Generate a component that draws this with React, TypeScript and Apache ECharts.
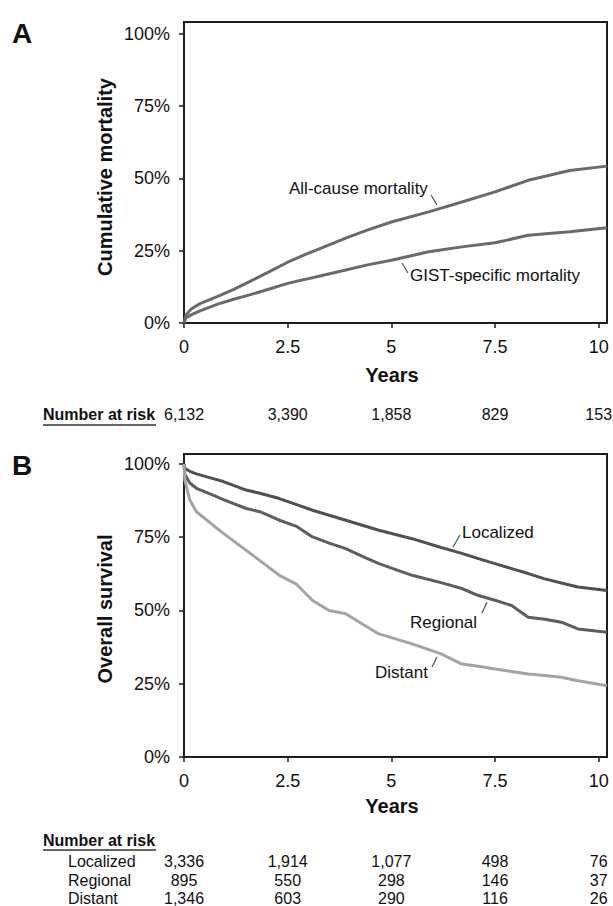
import React, { useEffect, useRef } from "react";
import * as echarts from "echarts";

// ---------- Data ----------
const tickYears = [0, 2.5, 5, 7.5, 10];
const tickPct = [0, 25, 50, 75, 100];

// Panel A: cumulative mortality (%)
const timesA = [0, 0.05, 0.17, 0.4, 0.83, 1.2, 1.58, 2.0, 2.5, 2.9, 3.38, 3.9, 4.4, 5.0, 5.9, 6.7, 7.5, 8.3, 9.3, 10.2];
const allCause = [0, 2.8, 4.8, 6.8, 9.3, 11.6, 14.3, 17.3, 21.0, 23.5, 26.3, 29.3, 32.0, 34.9, 38.4, 41.8, 45.3, 49.3, 52.7, 54.2];
const gistSpecific = [0, 1.8, 2.8, 4.3, 6.6, 8.2, 9.7, 11.5, 13.7, 15.0, 16.6, 18.3, 20.0, 21.7, 24.6, 26.3, 27.7, 30.3, 31.5, 32.9];

// Panel B: overall survival (%)
const timesB = [0, 0.02, 0.14, 0.3, 0.7, 0.95, 1.5, 1.83, 2.3, 2.7, 3.1, 3.5, 3.9, 4.3, 4.7, 5.5, 6.2, 6.7, 7.1, 7.5, 7.9, 8.3, 8.7, 9.1, 9.5, 10.2];
const localized = [100, 98.5, 97.5, 96.6, 95.0, 94.0, 91.1, 90.0, 88.2, 86.2, 84.2, 82.5, 80.8, 79.1, 77.4, 74.5, 71.5, 69.5, 67.7, 66.0, 64.3, 62.6, 60.8, 59.4, 58.0, 56.8];
const regional = [100, 96.5, 93.5, 91.7, 89.4, 87.8, 84.8, 83.7, 80.8, 78.8, 75.1, 73.0, 71.1, 68.5, 66.0, 62.0, 59.5, 57.5, 55.1, 53.5, 51.7, 47.7, 47.0, 46.0, 43.7, 42.6];
const distant = [100, 94.5, 87.7, 83.7, 79.1, 76.3, 70.5, 67.0, 62.0, 59.1, 53.4, 50.0, 48.9, 45.4, 42.0, 38.6, 35.2, 31.7, 31.0, 30.0, 29.2, 28.3, 27.8, 27.2, 26.0, 24.3];

// Numbers at risk
const riskTimes = [0, 2.5, 5, 7.5, 10];
const riskAll = ["6,132", "3,390", "1,858", "829", "153"];
const riskGroups = ["Localized", "Regional", "Distant"];
const riskLocalized = ["3,336", "1,914", "1,077", "498", "76"];
const riskRegional = ["895", "550", "298", "146", "37"];
const riskDistant = ["1,346", "603", "290", "116", "26"];

const FONT = "Liberation Sans, Arial, Helvetica, sans-serif";
const AXIS = "#1e1e1e";

function xAxisCfg(gridIndex: number) {
  return {
    type: "value",
    gridIndex,
    min: 0,
    max: 10.2,
    axisLine: { show: true, onZero: false, lineStyle: { color: AXIS, width: 2 } },
    axisTick: { show: true, inside: false, length: 5, customValues: tickYears, lineStyle: { color: AXIS, width: 1.5 } },
    axisLabel: {
      customValues: tickYears,
      margin: 15,
      fontSize: 18,
      fontFamily: FONT,
      color: "#111",
      formatter: (v: number) => String(v),
    },
    splitLine: { show: false },
  };
}

function yAxisCfg(gridIndex: number, max: number) {
  return {
    type: "value",
    gridIndex,
    min: 0,
    max,
    axisLine: { show: true, lineStyle: { color: AXIS, width: 2 } },
    axisTick: { show: true, inside: false, length: 5, customValues: tickPct, lineStyle: { color: AXIS, width: 1.5 } },
    axisLabel: {
      customValues: tickPct,
      margin: 14,
      fontSize: 18,
      fontFamily: FONT,
      color: "#111",
      formatter: (v: number) => v + "%",
    },
    splitLine: { show: false },
  };
}

function lineSeries(xi: number, times: number[], vals: number[], color: string, width: number) {
  return {
    type: "line",
    xAxisIndex: xi,
    yAxisIndex: xi,
    data: times.map((t, i) => [t, vals[i]]),
    showSymbol: false,
    symbol: "none",
    lineStyle: { color, width },
    z: 3,
  };
}

function txt(text: string, x: number, y: number, size: number, opts: any = {}) {
  return {
    type: "text",
    x,
    y,
    rotation: opts.rotation || 0,
    silent: true,
    style: {
      text,
      fill: opts.fill || "#111",
      fontSize: size,
      fontWeight: opts.bold ? "bold" : "normal",
      fontFamily: FONT,
      align: opts.align || "left",
      verticalAlign: "middle",
    },
  };
}

function seg(x1: number, y1: number, x2: number, y2: number, color = "#555", w = 1.2) {
  return {
    type: "line",
    silent: true,
    shape: { x1, y1, x2, y2 },
    style: { stroke: color, lineWidth: w },
  };
}

export default function App() {
  const ref = useRef<HTMLDivElement>(null);

  useEffect(() => {
    document.body.style.margin = "0";
    if (!ref.current) return;
    const chart = echarts.init(ref.current, null, { renderer: "svg" });

    const option: any = {
      animation: false,
      backgroundColor: "#ffffff",
      grid: [
        { left: 184, top: 22, width: 423, height: 301, show: true, borderColor: AXIS, borderWidth: 2, containLabel: false },
        { left: 184, top: 454, width: 423, height: 303, show: true, borderColor: AXIS, borderWidth: 2, containLabel: false },
      ],
      xAxis: [xAxisCfg(0), xAxisCfg(1)],
      yAxis: [yAxisCfg(0, 104), yAxisCfg(1, 103.4)],
      series: [
        lineSeries(0, timesA, allCause, "#6a6a6a", 3),
        lineSeries(0, timesA, gistSpecific, "#6a6a6a", 3),
        lineSeries(1, timesB, localized, "#505050", 3),
        lineSeries(1, timesB, regional, "#5e5e5e", 3),
        lineSeries(1, timesB, distant, "#a4a4a4", 3),
      ],
    };
    chart.setOption(option);

    const xs0 = riskTimes.map((t) => chart.convertToPixel({ xAxisIndex: 0 }, t) as number);
    const xs1 = riskTimes.map((t) => chart.convertToPixel({ xAxisIndex: 1 }, t) as number);

    const g: any[] = [
      // panel letters
      txt("A", 12, 33, 28, { bold: true }),
      txt("B", 12, 465, 28, { bold: true }),
      // axis titles
      txt("Years", 392, 375, 20, { bold: true, align: "center" }),
      txt("Years", 392, 806, 20, { bold: true, align: "center" }),
      txt("Cumulative mortality", 105, 177, 20, { bold: true, align: "center", rotation: Math.PI / 2 }),
      txt("Overall survival", 105, 609, 20, { bold: true, align: "center", rotation: Math.PI / 2 }),
      // curve labels panel A
      txt("All-cause mortality", 289, 188, 17),
      seg(431, 195, 437, 205),
      txt("GIST-specific mortality", 410, 275, 17),
      seg(402, 263, 408, 273),
      // curve labels panel B
      txt("Localized", 462, 532, 17),
      seg(453, 547, 460, 535),
      txt("Regional", 410, 622, 17),
      seg(487, 602, 482, 613),
      txt("Distant", 375, 672, 17),
      seg(437, 657, 432, 667),
      // Number at risk headers
      txt("Number at risk", 43, 414, 16, { bold: true }),
      seg(43, 425, 156, 425, "#333", 1.5),
      txt("Number at risk", 43, 840, 16, { bold: true }),
      seg(43, 850, 156, 850, "#333", 1.5),
    ];

    riskAll.forEach((v, i) => g.push(txt(v, xs0[i], 414, 16, { align: "center" })));
    const rowsY = [861, 880, 898];
    const rowVals = [riskLocalized, riskRegional, riskDistant];
    riskGroups.forEach((name, r) => {
      g.push(txt(name, 68, rowsY[r], 16));
      rowVals[r].forEach((v, i) => g.push(txt(v, xs1[i], rowsY[r], 16, { align: "center" })));
    });

    chart.setOption({ graphic: g });

    return () => chart.dispose();
  }, []);

  return (
    <div
      ref={ref}
      style={{ position: "absolute", left: 0, top: 0, width: 613, height: 906, background: "#fff" }}
    />
  );
}
